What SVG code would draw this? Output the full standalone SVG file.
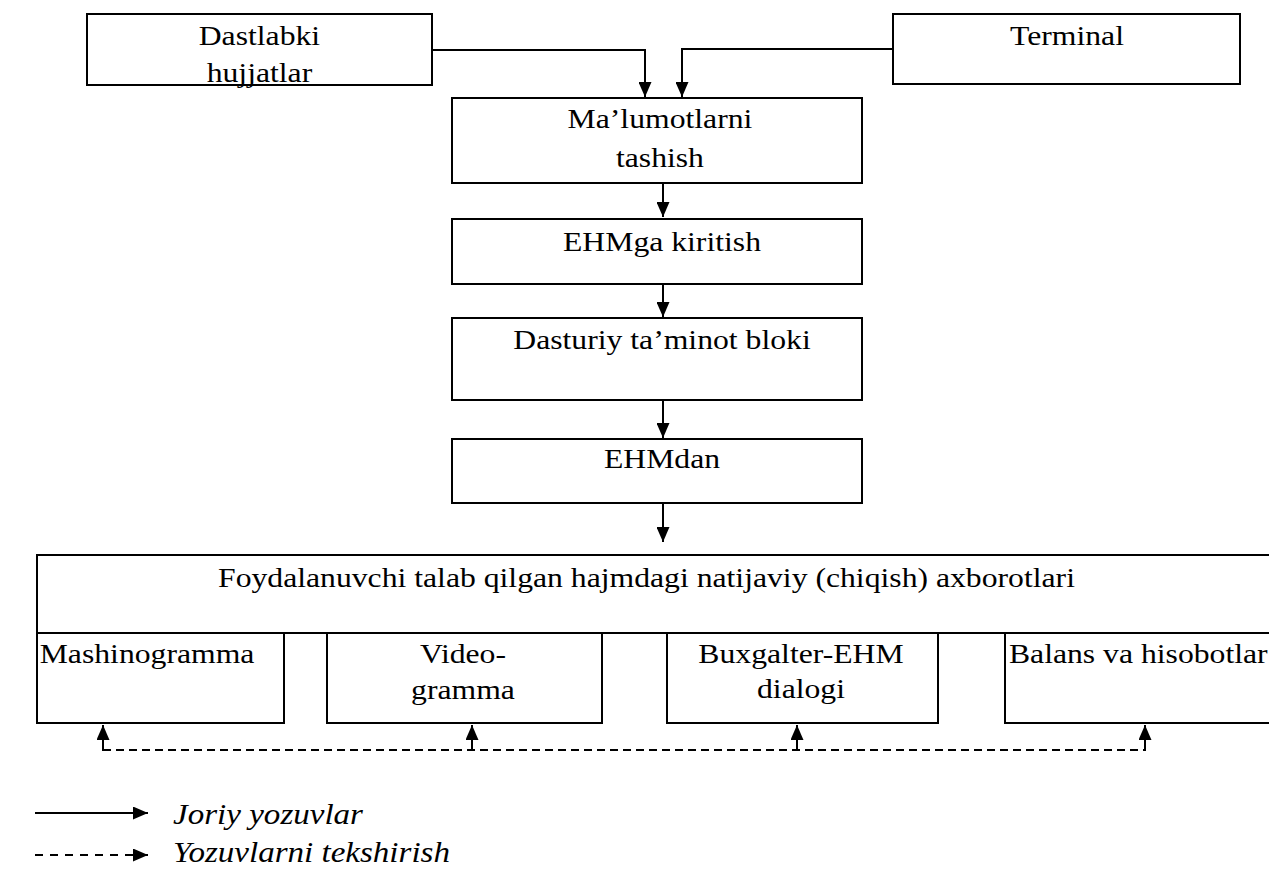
<svg xmlns="http://www.w3.org/2000/svg" width="1269" height="870" viewBox="0 0 1269 870">
<style>
.box{fill:#fff;stroke:#000;stroke-width:2}
.t{font-family:'Liberation Serif','DejaVu Serif',serif;font-size:28px;fill:#000;text-anchor:middle}
.s{text-anchor:start}
.i{font-style:italic;font-size:29px}
.c{fill:none;stroke:#000;stroke-width:2}
.d{stroke-dasharray:8 5}
.ld{stroke-dasharray:8 7}
</style>
<defs>
<marker id="ah" viewBox="0 0 15 13" refX="15" refY="6.5" markerWidth="15" markerHeight="13" markerUnits="userSpaceOnUse" orient="auto">
<path d="M0,0 L15,6.5 L0,13 z" fill="#000"/>
</marker>
</defs>
<rect width="1269" height="870" fill="#fff"/>
<g id="connectors">
<path class="c" d="M432,50 H645 V97" marker-end="url(#ah)"/>
<path class="c" d="M893,49 H682 V97" marker-end="url(#ah)"/>
<path class="c" d="M663,183 V217" marker-end="url(#ah)"/>
<path class="c" d="M663,284 V317" marker-end="url(#ah)"/>
<path class="c" d="M663,400 V438" marker-end="url(#ah)"/>
<path class="c" d="M663,503 V542" marker-end="url(#ah)"/>
<path class="c d" d="M103,750 H1145"/>
<path class="c" d="M103,751 V725" marker-end="url(#ah)"/>
<path class="c" d="M472,751 V725" marker-end="url(#ah)"/>
<path class="c" d="M797,751 V725" marker-end="url(#ah)"/>
<path class="c" d="M1145,751 V725" marker-end="url(#ah)"/>
</g>
<g id="dastlabki">
<rect class="box" x="87" y="14" width="345" height="71"/>
<text class="t" transform="scale(1.132 1)" x="229.2" y="45">Dastlabki</text>
<text class="t" transform="scale(1.132 1)" x="229.2" y="82">hujjatlar</text>
</g>
<g id="terminal">
<rect class="box" x="893" y="14" width="347" height="70"/>
<text class="t" transform="scale(1.132 1)" x="942.6" y="45">Terminal</text>
</g>
<g id="malumotlar">
<rect class="box" x="452" y="98" width="410" height="85"/>
<text class="t" transform="scale(1.132 1)" x="583" y="128">Ma’lumotlarni</text>
<text class="t" transform="scale(1.132 1)" x="583" y="167">tashish</text>
</g>
<g id="kiritish">
<rect class="box" x="452" y="219" width="410" height="65"/>
<text class="t" transform="scale(1.132 1)" x="584.8" y="251">EHMga kiritish</text>
</g>
<g id="dasturiy">
<rect class="box" x="452" y="318" width="410" height="82"/>
<text class="t" transform="scale(1.132 1)" x="584.8" y="349">Dasturiy ta’minot bloki</text>
</g>
<g id="ehmdan">
<rect class="box" x="452" y="439" width="410" height="64"/>
<text class="t" transform="scale(1.132 1)" x="584.8" y="468">EHMdan</text>
</g>
<g id="natijaviy">
<rect class="box" x="37" y="555" width="1250" height="78"/>
<text class="t" transform="scale(1.132 1)" x="571.1" y="587">Foydalanuvchi talab qilgan hajmdagi natijaviy (chiqish) axborotlari</text>
</g>
<g id="mashinogramma">
<rect class="box" x="37" y="633" width="247" height="90"/>
<text class="t" transform="scale(1.132 1)" x="129.9" y="663">Mashinogramma</text>
</g>
<g id="videogramma">
<rect class="box" x="327" y="633" width="275" height="90"/>
<text class="t" transform="scale(1.132 1)" x="409" y="663">Video-</text>
<text class="t" transform="scale(1.132 1)" x="409" y="699">gramma</text>
</g>
<g id="buxgalter">
<rect class="box" x="667" y="633" width="271" height="90"/>
<text class="t" transform="scale(1.132 1)" x="707.6" y="663">Buxgalter-EHM</text>
<text class="t" transform="scale(1.132 1)" x="707.6" y="698">dialogi</text>
</g>
<g id="balans">
<rect class="box" x="1005" y="633" width="282" height="90"/>
<text class="t s" transform="scale(1.132 1)" x="891.3" y="663">Balans va hisobotlar</text>
</g>
<g id="legend">
<path class="c" d="M35,813 H148" marker-end="url(#ah)"/>
<text class="t s i" transform="scale(1.14 1)" x="151.8" y="824">Joriy yozuvlar</text>
<path class="c ld" d="M35,855 H135"/>
<path class="c" d="M133,855 H148" marker-end="url(#ah)"/>
<text class="t s i" transform="scale(1.14 1)" x="151.8" y="862">Yozuvlarni tekshirish</text>
</g>
</svg>
